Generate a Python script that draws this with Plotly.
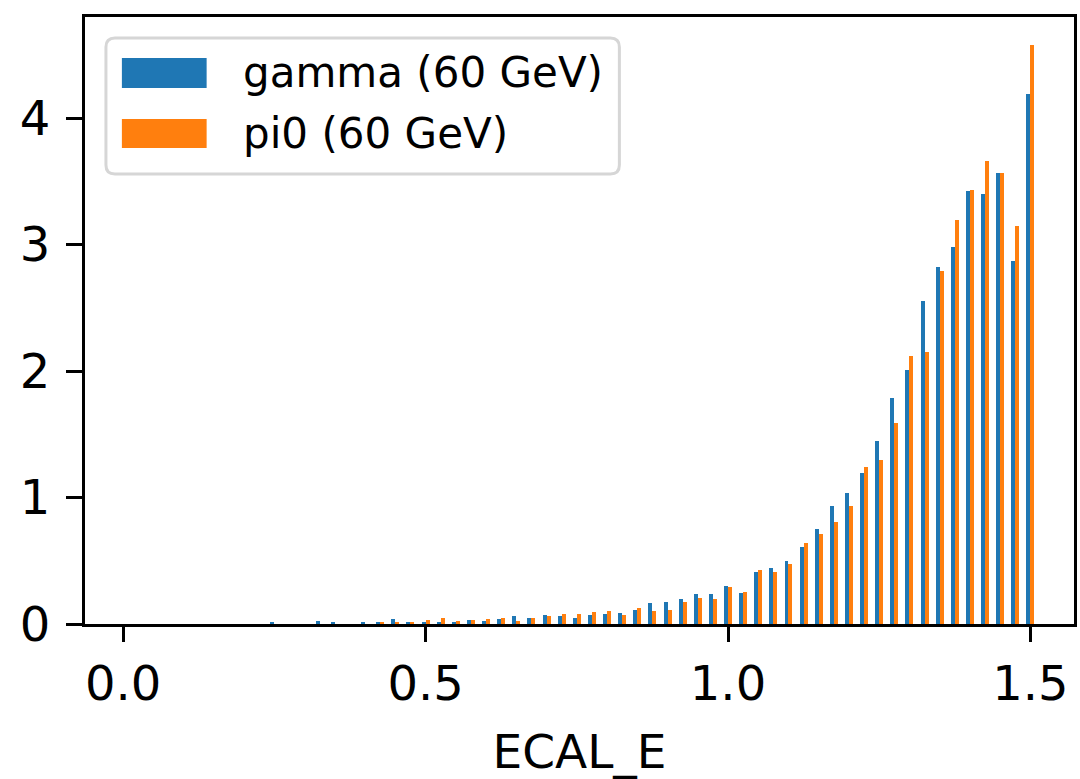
import numpy as np
import plotly.graph_objects as go

# Bin positions (pair centres), from 1.5 downwards in steps of 0.025 (k = 0 .. 60)
bin_centers = [round(1.5 - 0.025 * k, 4) for k in range(61)]

# Heights, index k matches bin_centers
gamma_60 = [4.190, 2.867, 3.564, 3.398, 3.422, 2.978, 2.820, 2.558, 2.012, 1.790,
            1.450, 1.196, 1.038, 0.935, 0.752, 0.610, 0.499, 0.444, 0.412, 0.246,
            0.301, 0.238, 0.238, 0.198, 0.174, 0.166, 0.111, 0.087, 0.079, 0.071,
            0.048, 0.063, 0.071, 0.048, 0.063, 0.040, 0.024, 0.032, 0.016, 0.008,
            0.016, 0.016, 0.040, 0.016, 0.016, 0.0, 0.008, 0.024, 0.0, 0.0,
            0.008, 0.0, 0.0, 0.0, 0.0, 0.0, 0.0, 0.0, 0.0, 0.0, 0.0]
pi0_60 = [4.578, 3.145, 3.564, 3.659, 3.430, 3.192, 2.788, 2.147, 2.123, 1.592,
          1.299, 1.244, 0.935, 0.808, 0.713, 0.642, 0.475, 0.412, 0.428, 0.253,
          0.293, 0.198, 0.206, 0.174, 0.111, 0.103, 0.127, 0.071, 0.103, 0.095,
          0.079, 0.079, 0.063, 0.048, 0.024, 0.048, 0.040, 0.032, 0.024, 0.048,
          0.032, 0.016, 0.008, 0.016, 0.0, 0.0, 0.0, 0.0, 0.0, 0.0,
          0.0, 0.0, 0.0, 0.0, 0.0, 0.0, 0.0, 0.0, 0.0, 0.0, 0.0]

series_names = ["gamma (60 GeV)", "pi0 (60 GeV)"]
colors = ["#1f77b4", "#ff7f0e"]
x_ticks = [0.0, 0.5, 1.0, 1.5]
x_tick_labels = ["0.0", "0.5", "1.0", "1.5"]
y_ticks = [0, 1, 2, 3, 4]
x_label = "ECAL_E"

W = 0.0066
FONT = "DejaVu Sans"
TICK_SIZE = 48

fig = go.Figure()
fig.add_trace(go.Bar(x=bin_centers, y=gamma_60, width=W, offset=-W,
                     marker=dict(color=colors[0], line=dict(width=0)),
                     name=series_names[0], showlegend=False))
fig.add_trace(go.Bar(x=bin_centers, y=pi0_60, width=W, offset=0,
                     marker=dict(color=colors[1], line=dict(width=0)),
                     name=series_names[1], showlegend=False))

# plot area in pixels
L, R, T, B = 85, 1077, 17, 624
PW, PH = R - L, B - T

def px(x):
    return (x - L) / PW

def py(y):
    return (B - y) / PH

# custom matplotlib-like legend
x0, x1, y0, y1, r = 106, 621, 38, 174, 9
path = (f"M {px(x0 + r)} {py(y0)} L {px(x1 - r)} {py(y0)} "
        f"Q {px(x1)} {py(y0)} {px(x1)} {py(y0 + r)} L {px(x1)} {py(y1 - r)} "
        f"Q {px(x1)} {py(y1)} {px(x1 - r)} {py(y1)} L {px(x0 + r)} {py(y1)} "
        f"Q {px(x0)} {py(y1)} {px(x0)} {py(y1 - r)} L {px(x0)} {py(y0 + r)} "
        f"Q {px(x0)} {py(y0)} {px(x0 + r)} {py(y0)} Z")
shapes = [dict(type="path", xref="paper", yref="paper", path=path,
               fillcolor="rgba(255,255,255,0.8)",
               line=dict(color="#d6d6d6", width=3), layer="above")]
annotations = []
rows = [(58, 88), (119, 148)]
for i, (ya, yb) in enumerate(rows):
    shapes.append(dict(type="rect", xref="paper", yref="paper",
                       x0=px(122), x1=px(207), y0=py(yb), y1=py(ya),
                       fillcolor=colors[i], line=dict(width=0), layer="above"))
    annotations.append(dict(xref="paper", yref="paper", x=px(241), y=py((ya + yb) / 2),
                            text=series_names[i], showarrow=False,
                            xanchor="left", yanchor="middle",
                            font=dict(family=FONT, size=42, color="black")))

fig.update_layout(
    width=1080, height=779,
    margin=dict(l=L, r=1080 - R, t=T, b=779 - B),
    paper_bgcolor="white", plot_bgcolor="white",
    barmode="overlay", bargap=0,
    shapes=shapes, annotations=annotations,
    font=dict(family=FONT, size=TICK_SIZE, color="black"),
)
fig.update_xaxes(range=[-0.063, 1.572], tickvals=x_ticks, ticktext=x_tick_labels,
                 showline=True, linecolor="black", linewidth=3, mirror=True,
                 ticks="outside", ticklen=15, tickwidth=3, tickcolor="black",
                 showgrid=False, zeroline=False,
                 tickfont=dict(family=FONT, size=TICK_SIZE, color="black"),
                 title=dict(text=x_label, font=dict(family=FONT, size=47, color="black"),
                            standoff=26))
fig.update_yaxes(range=[0, 4.80], tickvals=y_ticks,
                 showline=True, linecolor="black", linewidth=3, mirror=True,
                 ticks="outside", ticklen=16, tickwidth=3, tickcolor="black",
                 showgrid=False, zeroline=False, ticklabelstandoff=6,
                 tickfont=dict(family=FONT, size=TICK_SIZE, color="black"))

fig.write_html("out.html")
